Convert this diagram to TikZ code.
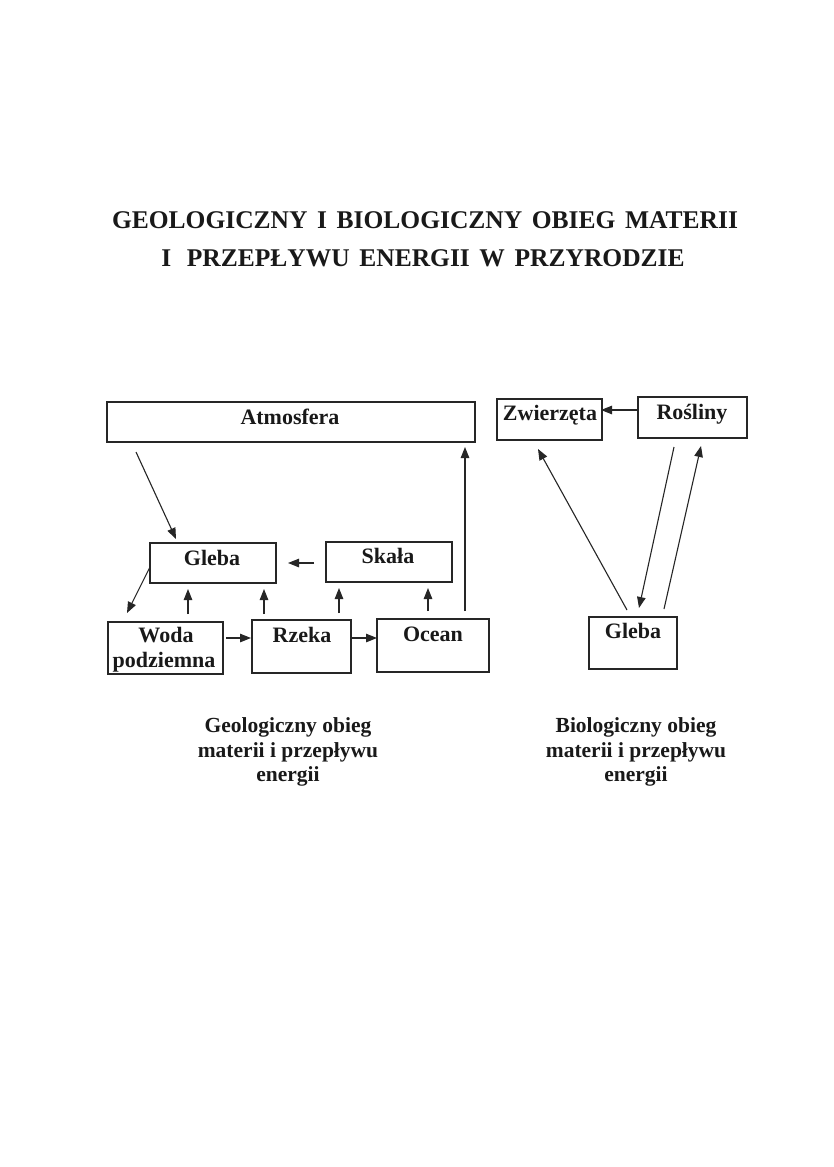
\documentclass[tikz,border=0pt]{standalone}
\usepackage{fontspec}
\setmainfont{Liberation Serif}
\usetikzlibrary{arrows.meta}
\begin{document}
\begin{tikzpicture}[x=1pt,y=-1pt,
  box/.style={draw=black!85, line width=1.1pt, rectangle, inner sep=0pt},
  lbl/.style={anchor=base, inner sep=0pt, font=\fontsize{22}{26}\selectfont\bfseries, text=black!90},
  captxt/.style={anchor=base, inner sep=0pt, font=\fontsize{21.5}{25}\selectfont\bfseries, text=black!90},
  ttl/.style={anchor=base, inner sep=0pt, font=\fontsize{25.5}{30}\selectfont\bfseries, text=black!90},
  arr/.style={line width=1.1pt, draw=black!85, -{Triangle[length=11pt,width=8.5pt]}}]
\useasboundingbox (0,0) rectangle (834,1167);
\fill[white] (0,0) rectangle (834,1167);

% title
\node[ttl] (t1) at (425,228) {\spaceskip=9.6pt\relax GEOLOGICZNY I BIOLOGICZNY OBIEG MATERII};
\node[ttl] (t2) at (423,266) {\spaceskip=9.6pt\relax I\hspace{6pt} PRZEPŁYWU ENERGII W PRZYRODZIE};

% geological boxes
\node[box, minimum width=368, minimum height=40] (atm) at (291,422) {};
\node[box, minimum width=126, minimum height=40] (gleba) at (213,563) {};
\node[box, minimum width=126, minimum height=40] (skala) at (389,562) {};
\node[box, minimum width=115, minimum height=52] (woda) at (165.5,648) {};
\node[box, minimum width=99, minimum height=53] (rzeka) at (301.5,646.5) {};
\node[box, minimum width=112, minimum height=53] (ocean) at (433,645.5) {};

\node[lbl] (atmT) at (290,424) {Atmosfera};
\node[lbl] (glebaT) at (212,565) {Gleba};
\node[lbl] (skalaT) at (388,563) {Skała};
\node[lbl] (wodaT1) at (166,642) {Woda};
\node[lbl] (wodaT2) at (164,667) {podziemna};
\node[lbl] (rzekaT) at (302,642) {Rzeka};
\node[lbl] (oceanT) at (433,641) {Ocean};

% biological boxes
\node[box, minimum width=105, minimum height=41] (zwierz) at (549.5,419.5) {};
\node[box, minimum width=109, minimum height=41] (rosl) at (692.5,417.5) {};
\node[box, minimum width=88, minimum height=52] (glebaR) at (633,643) {};

\node[lbl] (zwierzT) at (550,420) {Zwierzęta};
\node[lbl] (roslT) at (692,419) {Rośliny};
\node[lbl] (glebaRT) at (633,638) {Gleba};

% connector end points
\coordinate (a1s) at (136,452); \coordinate (a1e) at (176,539);
\coordinate (a2s) at (150,567); \coordinate (a2e) at (127,613);
\coordinate (a3s) at (314,563); \coordinate (a3e) at (288,563);
\coordinate (u1s) at (188,614); \coordinate (u1e) at (188,589);
\coordinate (u2s) at (264,614); \coordinate (u2e) at (264,589);
\coordinate (u3s) at (339,613); \coordinate (u3e) at (339,588);
\coordinate (u4s) at (428,611); \coordinate (u4e) at (428,588);
\coordinate (h1s) at (226,638); \coordinate (h1e) at (251,638);
\coordinate (h2s) at (352,638); \coordinate (h2e) at (377,638);
\coordinate (o1s) at (465,611); \coordinate (o1e) at (465,447);
\coordinate (b1s) at (638,410); \coordinate (b1e) at (601,410);
\coordinate (b2s) at (627,610); \coordinate (b2e) at (538,449);
\coordinate (b3s) at (674,447); \coordinate (b3e) at (639,608);
\coordinate (b4s) at (664,609); \coordinate (b4e) at (701,446);

\draw[arr] (a1s) -- (a1e);
\draw[arr] (a2s) -- (a2e);
\draw[arr] (a3s) -- (a3e);
\draw[arr] (u1s) -- (u1e);
\draw[arr] (u2s) -- (u2e);
\draw[arr] (u3s) -- (u3e);
\draw[arr] (u4s) -- (u4e);
\draw[arr] (h1s) -- (h1e);
\draw[arr] (h2s) -- (h2e);
\draw[arr] (o1s) -- (o1e);
\draw[arr] (b1s) -- (b1e);
\draw[arr] (b2s) -- (b2e);
\draw[arr] (b3s) -- (b3e);
\draw[arr] (b4s) -- (b4e);

% captions
\node[captxt] (capL1) at (288,732) {Geologiczny obieg};
\node[captxt] (capL2) at (288,757) {materii i przepływu};
\node[captxt] (capL3) at (288,781) {energii};
\node[captxt] (capR1) at (636,732) {Biologiczny obieg};
\node[captxt] (capR2) at (636,757) {materii i przepływu};
\node[captxt] (capR3) at (636,781) {energii};
\end{tikzpicture}
\end{document}
